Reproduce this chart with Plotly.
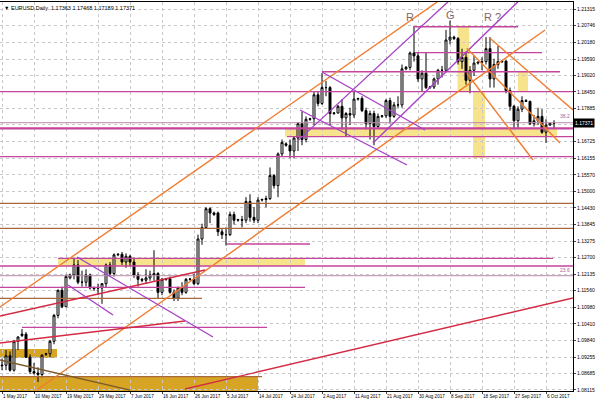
import plotly.graph_objects as go

# ---------------- data ----------------
open_ = [1.0895,1.0897,1.0930,1.0880,1.0980,1.1000,1.1005,1.0925,1.0875,1.0870,1.0865,1.0935,
         1.0937,1.0980,1.1070,1.1157,1.1100,1.1200,1.1210,1.1245,1.1185,1.1185,1.1210,1.1163,
         1.1165,1.1165,1.1180,1.1245,1.1215,1.1280,1.1282,1.1255,1.1275,1.1255,1.1210,1.1195,
         1.1192,1.1200,1.1210,1.1215,1.1150,1.1195,1.1197,1.1150,1.1130,1.1165,1.1150,1.1195,
         1.1196,1.1180,1.1335,1.1375,1.1440,1.1420,1.1425,1.1360,1.1350,1.1350,1.1420,1.1400,
         1.1402,1.1400,1.1465,1.1410,1.1400,1.1470,1.1472,1.1475,1.1555,1.1520,1.1630,1.1665,
         1.1660,1.1640,1.1685,1.1735,1.1680,1.1750,1.1752,1.1835,1.1805,1.1860,1.1860,1.1770,
         1.1772,1.1795,1.1755,1.1770,1.1765,1.1820,1.1822,1.1780,1.1735,1.1770,1.1725,1.1760,
         1.1762,1.1815,1.1760,1.1800,1.1800,1.1925,1.1930,1.1980,1.1970,1.1890,1.1910,1.1860,
         1.1862,1.1890,1.1920,1.1920,1.2025,1.2035,1.2030,1.1950,1.1965,1.1885,1.1920,1.1945,
         1.1948,1.1950,1.1995,1.1890,1.1940,1.1950,1.1952,1.1850,1.1795,1.1745,1.1785,1.1815,
         1.1812,1.1735,1.1745,1.1760,1.1705,1.1730,1.17363]
high = [1.0920,1.0950,1.0945,1.0985,1.0998,1.1023,1.1012,1.0935,1.0905,1.0890,1.0935,1.0940,
        1.0985,1.1075,1.1160,1.1170,1.1212,1.1215,1.1268,1.1262,1.1225,1.1230,1.1215,1.1170,
        1.1180,1.1180,1.1250,1.1255,1.1285,1.1285,1.1290,1.1285,1.1280,1.1270,1.1220,1.1200,
        1.1230,1.1225,1.1296,1.1220,1.1200,1.1200,1.1205,1.1160,1.1170,1.1185,1.1200,1.1200,
        1.1215,1.1350,1.1388,1.1445,1.1445,1.1430,1.1430,1.1370,1.1375,1.1430,1.1430,1.1405,
        1.1415,1.1480,1.1490,1.1445,1.1480,1.1475,1.1485,1.1583,1.1560,1.1635,1.1680,1.1670,
        1.1680,1.1690,1.1740,1.1777,1.1760,1.1755,1.1845,1.1845,1.1910,1.1883,1.1865,1.1775,
        1.1800,1.1820,1.1775,1.1790,1.1845,1.1825,1.1830,1.1790,1.1780,1.1780,1.1770,1.1765,
        1.1820,1.1825,1.1810,1.1830,1.1940,1.1935,1.1985,1.2070,1.1980,1.1920,1.1980,1.1865,
        1.1895,1.1925,1.1935,1.2060,1.2092,1.2040,1.2035,1.1995,1.1985,1.1935,1.1970,1.1950,
        1.1965,1.2035,1.2035,1.1960,1.2005,1.1955,1.1955,1.1860,1.1800,1.1795,1.1830,1.1820,
        1.1815,1.1765,1.1790,1.1785,1.1750,1.1738,1.17468]
low = [1.0880,1.0880,1.0875,1.0875,1.0950,1.0995,1.0922,1.0867,1.0865,1.0839,1.0855,1.0930,
       1.0925,1.0970,1.1060,1.1095,1.1100,1.1195,1.1195,1.1178,1.1170,1.1170,1.1160,1.1155,
       1.1140,1.1110,1.1165,1.1205,1.1205,1.1275,1.1245,1.1235,1.1240,1.1200,1.1170,1.1185,
       1.1180,1.1190,1.1190,1.1130,1.1140,1.1190,1.1145,1.1120,1.1120,1.1140,1.1145,1.1190,
       1.1175,1.1175,1.1315,1.1370,1.1390,1.1415,1.1345,1.1335,1.1312,1.1345,1.1385,1.1395,
       1.1375,1.1390,1.1395,1.1390,1.1390,1.1465,1.1445,1.1470,1.1510,1.1480,1.1620,1.1655,
       1.1615,1.1615,1.1640,1.1660,1.1670,1.1745,1.1730,1.1795,1.1800,1.1830,1.1730,1.1765,
       1.1770,1.1715,1.1690,1.1730,1.1755,1.1815,1.1775,1.1715,1.1680,1.1660,1.1720,1.1755,
       1.1755,1.1735,1.1755,1.1790,1.1790,1.1920,1.1920,1.1950,1.1880,1.1845,1.1855,1.1855,
       1.1855,1.1870,1.1895,1.1915,1.2010,1.2025,1.1940,1.1925,1.1870,1.1840,1.1900,1.1940,
       1.1920,1.1940,1.1860,1.1860,1.1925,1.1945,1.1840,1.1780,1.1717,1.1720,1.1775,1.1810,
       1.1730,1.1725,1.1730,1.1700,1.1668,1.1728,1.17189]
close = [1.0897,1.0930,1.0880,1.0980,1.0995,1.1005,1.0925,1.0875,1.0870,1.0865,1.0932,1.0937,
         1.0980,1.1070,1.1157,1.1100,1.1205,1.1210,1.1245,1.1185,1.1185,1.1210,1.1165,1.1165,
         1.1165,1.1180,1.1245,1.1215,1.1280,1.1282,1.1255,1.1275,1.1255,1.1210,1.1195,1.1192,
         1.1200,1.1210,1.1215,1.1150,1.1195,1.1197,1.1150,1.1130,1.1165,1.1150,1.1195,1.1196,
         1.1180,1.1335,1.1375,1.1440,1.1425,1.1425,1.1360,1.1350,1.1350,1.1420,1.1400,1.1402,
         1.1400,1.1465,1.1410,1.1400,1.1470,1.1472,1.1475,1.1555,1.1520,1.1630,1.1670,1.1660,
         1.1640,1.1685,1.1735,1.1680,1.1750,1.1752,1.1835,1.1805,1.1860,1.1860,1.1770,1.1772,
         1.1795,1.1755,1.1770,1.1765,1.1820,1.1822,1.1780,1.1735,1.1770,1.1725,1.1760,1.1762,
         1.1815,1.1760,1.1800,1.1800,1.1925,1.1930,1.1980,1.1970,1.1890,1.1910,1.1860,1.1862,
         1.1890,1.1920,1.1920,1.2025,1.2035,1.2030,1.1950,1.1965,1.1885,1.1920,1.1945,1.1948,
         1.1950,1.1995,1.1890,1.1940,1.1950,1.1952,1.1850,1.1795,1.1745,1.1785,1.1815,1.1812,
         1.1735,1.1745,1.1760,1.1705,1.1730,1.1736,1.17371]
bars = list(range(len(close)))

date_tick_bars = [0, 8, 16, 24, 32, 40, 48, 56, 64, 72, 80, 88, 96, 104, 112, 120, 128, 136]
date_tick_text = ["1 May 2017", "10 May 2017", "19 May 2017", "29 May 2017", "7 Jun 2017",
                  "16 Jun 2017", "26 Jun 2017", "5 Jul 2017", "14 Jul 2017", "24 Jul 2017",
                  "2 Aug 2017", "11 Aug 2017", "21 Aug 2017", "30 Aug 2017", "8 Sep 2017",
                  "18 Sep 2017", "27 Sep 2017", "6 Oct 2017"]
price_ticks = [1.21315, 1.20746, 1.20180, 1.19590, 1.19020, 1.18450, 1.17885, 1.17310,
               1.16725, 1.16155, 1.15570, 1.15000, 1.14430, 1.13845, 1.13275, 1.12700,
               1.12135, 1.11560, 1.10980, 1.10410, 1.09840, 1.09255, 1.08685, 1.08115]
price_tick_text = ["1.21315", "1.20746", "1.20180", "1.19590", "1.19020", "1.18450", "1.17885", "",
                   "1.16725", "1.16155", "1.15570", "1.15000", "1.14430", "1.13845", "1.13275",
                   "1.12700", "1.12135", "1.11560", "1.10980", "1.10410", "1.09840", "1.09255",
                   "1.08685", "1.08115"]
last_price = 1.17371
header_text = "▼ EURUSD.Daily  1.17363 1.17468 1.17189 1.17371"

# horizontal levels: price, start bar, end bar (None = whole chart), kind
h_levels = [
    (1.2071, 102.75, 129.0, "mag"), (1.1981, 103.25, 135.0, "mag"),
    (1.1915, 80.0, 139.5, "mag"), (1.18457, None, None, "mag"),
    (1.17382, None, None, "fib"), (1.17188, None, None, "magw"),
    (1.16897, 71.25, None, "mag"), (1.16203, None, None, "mag"),
    (1.14587, None, None, "brown"), (1.13720, None, None, "brown"),
    (1.13176, 56.25, 77.0, "mag"), (1.12680, 14.0, 137.75, "mag"),
    (1.12413, None, None, "mag"), (1.12076, None, None, "fib"),
    (1.11674, None, 75.75, "mag"), (1.11293, None, 50.0, "brown"),
    (1.10287, 5.0, 66.25, "mag"), (1.08574, None, 65.0, "brown"),
]
# zones: bar0, bar1, price0, price1, kind
zones = [
    (70.75, 117.75, 1.16897, 1.17188, "yellow"), (120.75, 138.75, 1.16897, 1.17188, "yellow"),
    (14.0, 75.75, 1.12413, 1.12680, "yellow"),
    (-0.5, 13.75, 1.09222, 1.09534, "gold"), (-0.5, 64.0, 1.0790, 1.08574, "gold"),
    (113.9, 116.8, 1.18457, 1.20736, "yellow"), (117.75, 120.75, 1.16158, 1.18457, "yellow"),
    (129.0, 131.5, 1.18457, 1.19151, "yellow"),
]
# trend lines: bar0, price0, bar1, price1, kind
trends = [
    (-0.5, 1.10991, 109.5, 1.21638, "orange"),
    (8.75, 1.08112, 135.75, 1.20597, "orange"),
    (-0.5, 1.10679, 50.75, 1.12274, "red"),
    (-0.5, 1.09742, 45.75, 1.10505, "red"),
    (45.75, 1.08147, 142.75, 1.11302, "red"),
    (-0.5, 1.09153, 32.0, 1.08112, "olive"),
    (18.75, 1.12725, 52.75, 1.09951, "purple"),
    (16.5, 1.11754, 27.75, 1.10714, "purple"),
    (80.0, 1.19141, 105.75, 1.17129, "purple"),
    (74.5, 1.17823, 101.25, 1.15915, "purple"),
    (92.75, 1.16678, 129.0, 1.21579, "purple"),
    (74.0, 1.16760, 112.0, 1.21638, "purple"),
    (116.2, 1.19096, 132.75, 1.16089, "orange"),
    (116.2, 1.19962, 139.5, 1.16678, "orange"),
    (122.0, 1.20309, 142.75, 1.17823, "orange"),
]
labels = [(102.0, 1.2105, "R"), (112.0, 1.2112, "G"), (122.5, 1.2105, "R ?")]

# ---------------- styles ----------------
col = {"mag": "#c4459c", "magw": "#c4459c", "fib": "#b88aa8", "brown": "#a8683c",
       "orange": "#f07c30", "red": "#d42a44", "olive": "#7a5a2a", "purple": "#a640c4",
       "yellow": "rgba(246,222,120,0.85)", "gold": "#d8a424"}
wid = {"mag": 1.3, "magw": 2.2, "fib": 1, "brown": 1.3, "orange": 1.4, "red": 1.4,
       "olive": 1.3, "purple": 1.3}
FONT = "Liberation Sans"

x_lo, x_hi = -0.5, 142.75
y_lo, y_hi = 1.08078, 1.21568

fig = go.Figure()
fig.add_trace(go.Candlestick(
    x=bars, open=open_, high=high, low=low, close=close,
    increasing=dict(fillcolor="white", line=dict(color="black", width=1)),
    decreasing=dict(fillcolor="black", line=dict(color="black", width=1)),
    whiskerwidth=0, showlegend=False, hoverinfo="skip"))

shapes = []
for b0, b1, p0, p1, k in zones:
    shapes.append(dict(type="rect", xref="x", yref="y", x0=b0, x1=b1, y0=p0, y1=p1,
                       fillcolor=col[k], line=dict(width=0), layer="below"))
for p, b0, b1, k in h_levels:
    shapes.append(dict(type="line", xref="x", yref="y",
                       x0=x_lo if b0 is None else b0, x1=x_hi if b1 is None else b1,
                       y0=p, y1=p, line=dict(color=col[k], width=wid[k]), layer="above"))
for b0, p0, b1, p1, k in trends:
    shapes.append(dict(type="line", xref="x", yref="y", x0=b0, y0=p0, x1=b1, y1=p1,
                       line=dict(color=col[k], width=wid[k]), layer="above"))

ann = []
for b, p, t in labels:
    ann.append(dict(x=b, y=p, xref="x", yref="y", text=t, showarrow=False,
                    font=dict(size=11, color="#8a6464", family=FONT)))
ann.append(dict(x=0.003, y=0.998, xref="paper", yref="paper", text=header_text, showarrow=False,
                xanchor="left", yanchor="top", font=dict(size=5.5, color="black", family=FONT)))
ann.append(dict(x=1, y=last_price, xref="paper", yref="y", text=f"{last_price:.5f}",
                showarrow=False, xanchor="left", yanchor="middle", bgcolor="black",
                font=dict(size=5, color="white", family=FONT), borderpad=1))
ann.append(dict(x=0.998, y=1.1745, xref="paper", yref="y", text="38.2", showarrow=False,
                xanchor="right", yanchor="bottom", font=dict(size=5, color="#b05a9a", family=FONT)))
ann.append(dict(x=0.998, y=1.1211, xref="paper", yref="y", text="23.6", showarrow=False,
                xanchor="right", yanchor="bottom", font=dict(size=5, color="#b05a9a", family=FONT)))

fig.update_layout(
    width=600, height=400, margin=dict(l=0, r=27, t=2, b=9),
    paper_bgcolor="white", plot_bgcolor="white", shapes=shapes, annotations=ann,
    font=dict(family=FONT, size=5, color="black"),
    xaxis=dict(range=[x_lo, x_hi], rangeslider=dict(visible=False), tickmode="array",
               tickvals=date_tick_bars, ticktext=date_tick_text, ticks="outside", ticklen=2,
               tickangle=0, ticklabelposition="outside right", showgrid=True,
               gridcolor="#c8c8c8", griddash="dot", gridwidth=1, showline=True,
               linecolor="black", mirror=True, zeroline=False, tickfont=dict(size=4.6),
               automargin=False),
    yaxis=dict(range=[y_lo, y_hi], side="right", tickmode="array", tickvals=price_ticks,
               ticktext=price_tick_text, ticks="outside", ticklen=2, showgrid=True,
               gridcolor="#c8c8c8", griddash="dot", gridwidth=1, showline=True,
               linecolor="black", mirror=True, zeroline=False, tickfont=dict(size=5),
               automargin=False),
)
fig.write_html("out.html", config={"displayModeBar": False},
               post_script="document.body.style.margin='0';document.body.style.overflow='hidden';")
